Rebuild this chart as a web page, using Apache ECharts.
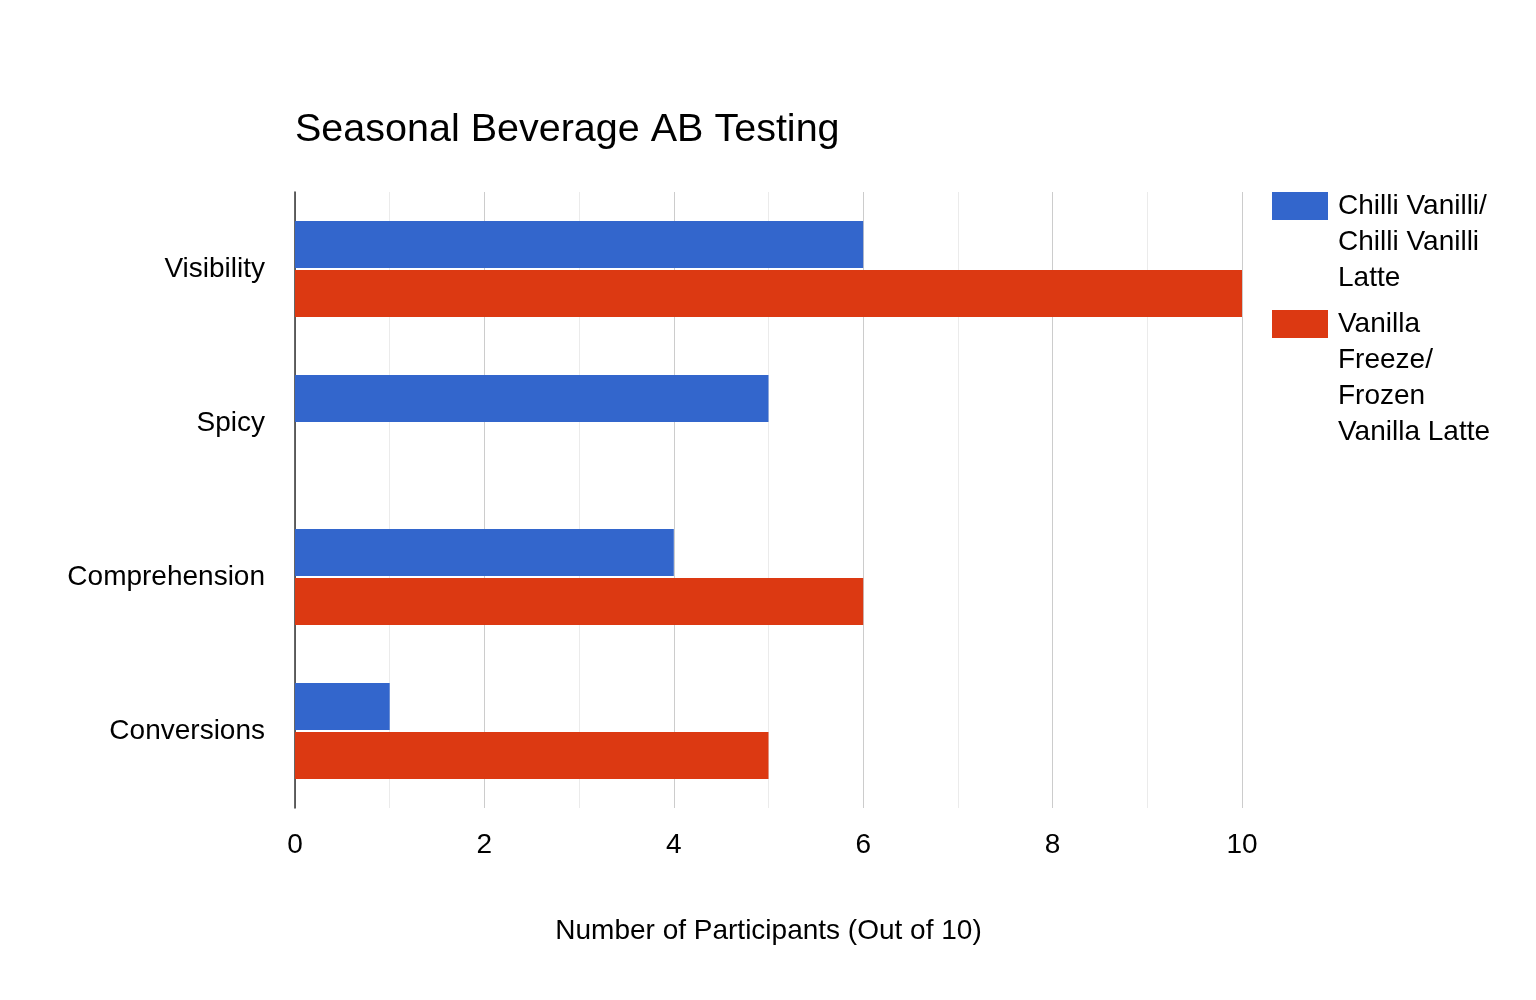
<!DOCTYPE html>
<html>
<head>
<meta charset="utf-8">
<title>Seasonal Beverage AB Testing</title>
<script src="https://cdn.jsdelivr.net/npm/echarts@6/dist/echarts.min.js"></script>
<style>
  html, body { margin: 0; padding: 0; background: #fff; }
  #chart { width: 1536px; height: 1000px; }
</style>
</head>
<body>
<div id="chart"></div>
<script>
// data
var categories = ['Visibility', 'Spicy', 'Comprehension', 'Conversions'];
var seriesNames = ['Chilli Vanilli/ Chilli Vanilli Latte', 'Vanilla Freeze/ Frozen Vanilla Latte'];
// legend text wrapped the same way as the original
var legendLines = [
  ['Chilli Vanilli/', 'Chilli Vanilli', 'Latte'],
  ['Vanilla', 'Freeze/', 'Frozen', 'Vanilla Latte']
];
var chilliVanilli = [6, 5, 4, 1];
var vanillaFreeze = [10, 0, 6, 5];
var xTickLabels = ['0', '', '2', '', '4', '', '6', '', '8', '', '10'];

var font = '"Liberation Sans", Arial, sans-serif';
var lineH = 36;

var myChart = echarts.init(document.getElementById('chart'));

var option = {
  backgroundColor: '#fff',
  animation: false,
  title: {
    text: 'Seasonal Beverage AB Testing',
    left: 290,
    top: 105,
    textStyle: { fontFamily: font, fontSize: 39.5, fontWeight: 'normal', color: '#000' }
  },
  legend: {
    orient: 'vertical',
    left: 1272,
    top: 116,
    padding: 0,
    itemWidth: 56,
    itemHeight: 28,
    // legend text is centred on the icon, so blank lines are put in front
    // of it to line the first line up with the swatch; the gap makes up for it
    itemGap: -98,
    icon: 'rect',
    formatter: function (name) {
      var lines = legendLines[seriesNames.indexOf(name)];
      var pad = [];
      for (var i = 1; i < lines.length; i++) pad.push('');
      return pad.concat(lines).join('\n');
    },
    textStyle: { fontFamily: font, fontSize: 28, color: '#000', lineHeight: lineH, padding: [0, 0, 0, 5] },
    data: seriesNames
  },
  grid: { left: 295, right: 294, top: 192, bottom: 192, containLabel: false },
  xAxis: {
    type: 'value',
    min: 0,
    max: 10,
    interval: 1,
    name: 'Number of Participants (Out of 10)',
    nameLocation: 'middle',
    nameGap: 109,
    nameTextStyle: { fontFamily: font, fontSize: 28, color: '#000' },
    axisLine: { show: false },
    axisTick: { show: false },
    axisLabel: {
      margin: 23,
      fontFamily: font,
      fontSize: 28,
      color: '#000',
      formatter: function (v) { return xTickLabels[Math.round(v)]; }
    },
    splitLine: { show: true, lineStyle: { color: ['#cccccc', '#ebebeb'], width: 1 } }
  },
  yAxis: {
    type: 'category',
    data: categories,
    inverse: true,
    axisLine: { show: true, lineStyle: { color: '#333', width: 1.5 } },
    axisTick: { show: false },
    axisLabel: { margin: 30, fontFamily: font, fontSize: 28, color: '#000', padding: [4, 0, 0, 0] },
    splitLine: { show: false }
  },
  series: [
    {
      name: seriesNames[0],
      type: 'bar',
      data: chilliVanilli,
      barWidth: 47,
      barGap: '4%',
      itemStyle: { color: '#3366cc' }
    },
    {
      name: seriesNames[1],
      type: 'bar',
      data: vanillaFreeze,
      barWidth: 47,
      barGap: '4%',
      itemStyle: { color: '#dc3912' }
    }
  ]
};

myChart.setOption(option);
</script>
</body>
</html>
